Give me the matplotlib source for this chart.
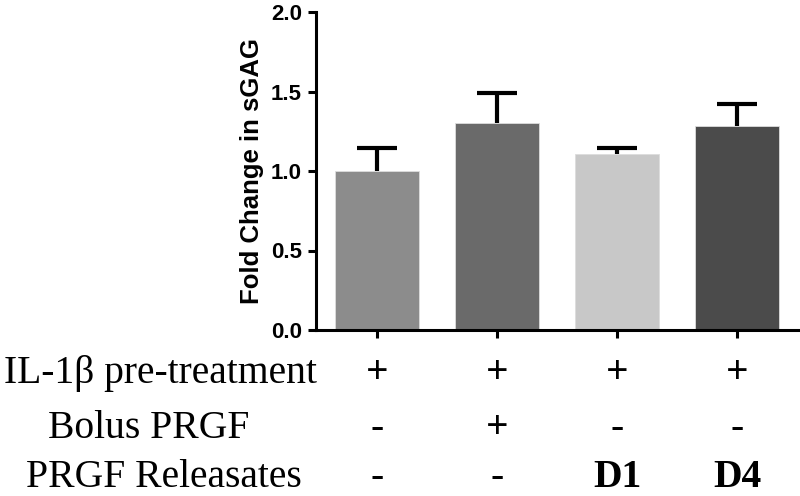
import matplotlib
matplotlib.use("Agg")
import matplotlib.pyplot as plt
from matplotlib.transforms import blended_transform_factory

groups = ["G1", "G2", "G3", "G4"]
values = [1.0, 1.30, 1.107, 1.285]
errors = [0.146, 0.19, 0.04, 0.137]
colors = ["#8c8c8c", "#6a6a6a", "#c8c8c8", "#4b4b4b"]
yticks = [0.0, 0.5, 1.0, 1.5, 2.0]
ylabel = "Fold Change in sGAG"

row_labels = ["IL-1β pre-treatment", "Bolus PRGF", "PRGF Releasates"]
row_label_x = [160, 149, 164]  # figure pixel centers
row_values = [["+", "+", "+", "+"],
              ["-", "+", "-", "-"],
              ["-", "-", "D1", "D4"]]

W, H = 800, 496
fig = plt.figure(figsize=(W / 100, H / 100), dpi=100)
ax = fig.add_axes([316 / W, (H - 330) / H, (798 - 316) / W, (330 - 12) / H])

x = list(range(len(groups)))
bar_w = 0.7
cap_half = 0.167
tops = [v + e for v, e in zip(values, errors)]
ax.vlines(x, values, tops, color="black", linewidth=3, zorder=1)
ax.hlines(tops, [xi - cap_half for xi in x], [xi + cap_half for xi in x],
          color="black", linewidth=3, zorder=1)
ax.bar(x, values, width=bar_w, color=colors, edgecolor="#dddddd", linewidth=0.6, zorder=2)

ax.set_xlim(-0.508, 3.508)
ax.set_ylim(0, 2.0)
ax.set_yticks(yticks)
ax.set_yticklabels([f"{v:.1f}" for v in yticks], fontsize=16, fontweight="bold",
                   family="Liberation Sans")
ax.set_xticks(x)
ax.set_xticklabels([])
ax.tick_params(axis="both", width=2.2, length=6, direction="out", pad=4)
for s in ["top", "right"]:
    ax.spines[s].set_visible(False)
for s in ["left", "bottom"]:
    ax.spines[s].set_linewidth(2.2)
ax.set_ylabel(ylabel, fontsize=18.5, fontweight="bold", family="Liberation Sans", labelpad=5)

# bottom condition table
baselines = [-(383 - 330) / 318, -(438 - 330) / 318, -(487 - 330) / 318]
trans = blended_transform_factory(ax.transData, ax.transAxes)
ftrans = blended_transform_factory(fig.transFigure, ax.transAxes)
for lab, lx, vals, yb in zip(row_labels, row_label_x, row_values, baselines):
    fig.text(lx / W, yb, lab, ha="center", va="baseline", fontsize=28.5,
             family="Liberation Serif", transform=ftrans)
    for xi, v in zip(x, vals):
        ax.text(xi, yb, v, ha="center", va="baseline", fontsize=28.5,
                family="Liberation Serif", fontweight="bold", transform=trans,
                clip_on=False)

fig.savefig("out.png", dpi=100)
